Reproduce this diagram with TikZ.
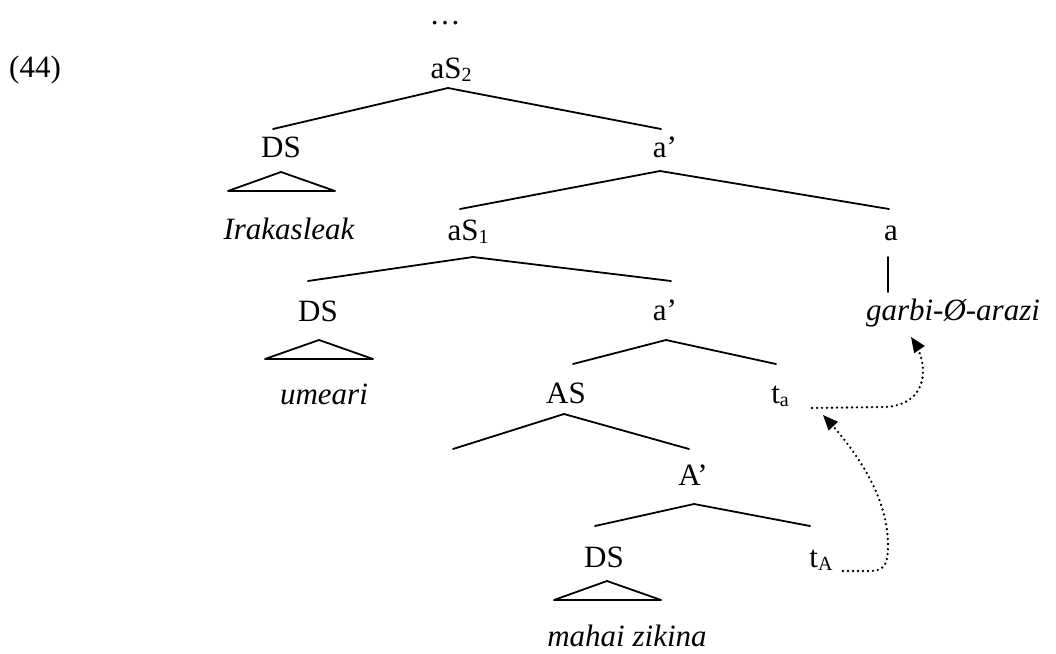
\documentclass[tikz,border=0pt]{standalone}
\usepackage{fontspec}
\setmainfont{Liberation Serif}
\usetikzlibrary{arrows}
\newcommand{\catsub}[1]{\raisebox{-3pt}{\fontsize{20pt}{20pt}\selectfont #1}}

\begin{document}
\begin{tikzpicture}[line cap=round,line join=round,>=triangle 45,x=1pt,y=-1pt,
  every node/.style={anchor=base,inner sep=0pt,font=\fontsize{31pt}{37pt}\selectfont},
  branch/.style={line width=1.8pt},
  trace/.style={line width=2.6pt,dash pattern=on 0pt off 5pt,->}]
\useasboundingbox (0,0) rectangle (1056,653);
\node (ex) at (35,77) {(44)};
\node (dots) at (445,24) {…};
\node (aS2) at (451,78) {aS\catsub{2}};
\node (DSa) at (281,157) {DS};
\node (abar) at (665,157) {a'};
\node (irak) at (289,239) {\itshape Irakasleak};
\node (aS1) at (468,240) {aS\catsub{1}};
\node (a) at (891,240) {a};
\node (DSb) at (318,321) {DS};
\node (abarb) at (665,320) {a'};
\node (garbi) at (953,320) {\itshape garbi-Ø-arazi};
\node (umeari) at (324,404) {\itshape umeari};
\node (AS) at (566,403) {AS};
\node (ta) at (780,403) {t\catsub{a}};
\node (Abar) at (693,485) {A'};
\node (DSc) at (604,567) {DS};
\node (tA) at (821,567) {t\catsub{A}};
\node (mahai) at (627,646) {\itshape mahai zikina};
\coordinate (ASleft) at (453,449);
\draw[branch] ([xshift=-8pt,yshift=28pt]DSa.base) -- ([xshift=-3pt,yshift=-10pt]aS2.base) -- ([xshift=-4pt,yshift=28pt]abar.base);
\draw[branch] ([xshift=-8pt,yshift=31pt]aS1.base) -- ([xshift=-5pt,yshift=-14pt]abar.base) -- ([xshift=-2pt,yshift=31pt]a.base);
\draw[branch] ([xshift=-10pt,yshift=40pt]DSb.base) -- ([xshift=5pt,yshift=-17pt]aS1.base) -- ([xshift=6pt,yshift=39pt]abarb.base);
\draw[branch] ([xshift=7pt,yshift=39pt]AS.base) -- ([xshift=1pt,yshift=-20pt]abarb.base) -- ([xshift=-4pt,yshift=39pt]ta.base);
\draw[branch] (ASleft) -- ([xshift=-2pt,yshift=-11pt]AS.base) -- ([xshift=-4pt,yshift=36pt]Abar.base);
\draw[branch] ([xshift=-9pt,yshift=41pt]DSc.base) -- ([xshift=1pt,yshift=-19pt]Abar.base) -- ([xshift=-11pt,yshift=41pt]tA.base);
\draw[branch] ([xshift=-3pt,yshift=-17pt]a.base) -- +(0,35);
\draw[branch] ([yshift=-15pt]DSa.base) -- ++(-53,19) -- ++(107,0) -- cycle;
\draw[branch] ([xshift=1pt,yshift=-19pt]DSb.base) -- ++(-54,19) -- ++(108,0) -- cycle;
\draw[branch] ([xshift=3pt,yshift=-14pt]DSc.base) -- ++(-53,19) -- ++(107,0) -- cycle;
\draw[trace] ([xshift=32pt,yshift=-5pt]ta.base) -- (885,407) .. controls (928,405) and (930,365) .. ([xshift=-42pt,yshift=-17pt]garbi.base);
\draw[trace] ([xshift=22pt,yshift=-4pt]tA.base) -- (872,571) .. controls (886,571) and (888,560) .. (888,545) .. controls (888,500) and (860,455) .. ([xshift=43pt,yshift=-12pt]ta.base);
\end{tikzpicture}
\end{document}
